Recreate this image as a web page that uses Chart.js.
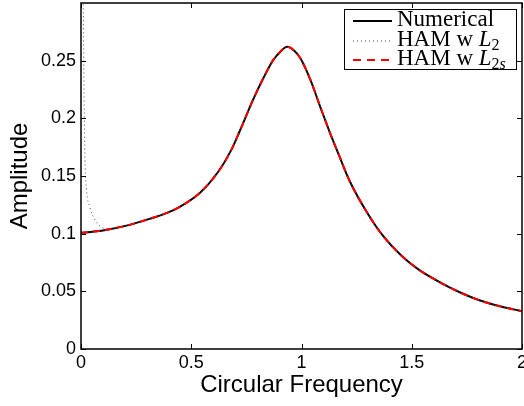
<!DOCTYPE html>
<html>
<head>
<meta charset="utf-8">
<script src="https://cdn.jsdelivr.net/npm/chart.js@4/dist/chart.umd.min.js"></script>
<style>
  body { margin: 0; background: #fff; }
  #wrap { position: relative; width: 524px; height: 406px; }
  #legend {
    position: absolute; left: 344px; top: 9px; width: 171px; height: 59px;
    border: 1px solid #000; background: #fff;
    font-family: "Liberation Serif", "DejaVu Serif", serif; font-size: 23px;
  }
  .legend-item { position: absolute; left: 0; height: 20px; width: 171px; }
  .legend-item svg { position: absolute; left: 8px; top: 0; }
  .legend-label { position: absolute; left: 52px; top: -4px; line-height: 24px; white-space: nowrap; }
  .legend-label sub { font-size: 16px; vertical-align: -4px; line-height: 0; }
</style>
</head>
<body>
<div id="wrap">
  <canvas id="ampChart" width="524" height="406"></canvas>
  <div id="legend"></div>
</div>
<script>
// Values
const freq = [0, 0.06, 0.13, 0.22, 0.31, 0.39, 0.45, 0.54, 0.62, 0.68, 0.72, 0.78, 0.83, 0.87,
  0.905, 0.935, 0.965, 0.995, 1.04, 1.085, 1.13, 1.17, 1.22, 1.30, 1.37, 1.45, 1.53, 1.63,
  1.72, 1.81, 1.90, 2.0];
const numericalAmp = [0.1008, 0.1018, 0.1039, 0.1076, 0.1128, 0.118, 0.1235, 0.1355, 0.153,
  0.172, 0.189, 0.216, 0.236, 0.250, 0.258, 0.262, 0.259, 0.252, 0.2335, 0.210, 0.187, 0.168,
  0.145, 0.1175, 0.098, 0.0815, 0.069, 0.0576, 0.049, 0.042, 0.037, 0.0328];
const hamL2sAmp = [0.1008, 0.1018, 0.1039, 0.1076, 0.1128, 0.118, 0.1235, 0.1355, 0.153,
  0.172, 0.189, 0.216, 0.236, 0.250, 0.258, 0.262, 0.259, 0.252, 0.2335, 0.210, 0.187, 0.168,
  0.145, 0.1175, 0.098, 0.0815, 0.069, 0.0576, 0.049, 0.042, 0.037, 0.0328];
// HAM w L2 departs from the others near zero frequency
const hamL2LowFreq = [0.009, 0.0105, 0.014, 0.018, 0.025, 0.04, 0.055, 0.078, 0.10];
const hamL2LowAmp = [0.33, 0.296, 0.22, 0.164, 0.138, 0.123, 0.115, 0.108, 0.105];

const xTicks = [0, 0.5, 1, 1.5, 2];
const yTicks = [0, 0.05, 0.1, 0.15, 0.2, 0.25];

const toPoints = (xs, ys) => xs.map((x, i) => ({ x: x, y: ys[i] }));
const hamL2Points = toPoints(hamL2LowFreq, hamL2LowAmp).concat(
  toPoints(freq, numericalAmp).filter((p) => p.x > 0.12)
);

// Box round the plot area plus inward ticks on all four sides
const framePlugin = {
  id: "frame",
  afterDatasetsDraw(chart) {
    const { ctx, chartArea: a, scales } = chart;
    ctx.save();
    ctx.strokeStyle = "#000";
    ctx.lineWidth = 1;
    ctx.beginPath();
    xTicks.forEach((v) => {
      const px = Math.round(scales.x.getPixelForValue(v)) + 0.5;
      ctx.moveTo(px, a.bottom); ctx.lineTo(px, a.bottom - 5);
      ctx.moveTo(px, a.top); ctx.lineTo(px, a.top + 5);
    });
    yTicks.forEach((v) => {
      const py = Math.round(scales.y.getPixelForValue(v)) + 0.5;
      ctx.moveTo(a.left, py); ctx.lineTo(a.left + 5, py);
      ctx.moveTo(a.right, py); ctx.lineTo(a.right - 5, py);
    });
    ctx.stroke();
    ctx.lineWidth = 1.5;
    ctx.strokeRect(a.left, a.top, a.right - a.left, a.bottom - a.top);
    ctx.restore();
  },
};

const fmt = (v) => String(parseFloat(Number(v).toFixed(2)));

const ctx = document.getElementById("ampChart").getContext("2d");
const ampChart = new Chart(ctx, {
  type: "line",
  data: {
    datasets: [
      {
        label: "HAM w L2s",
        data: toPoints(freq, hamL2sAmp),
        borderColor: "rgb(255, 0, 0)",
        borderWidth: 2,
        borderDash: [7, 5],
        order: 0,
      },
      {
        label: "HAM w L2",
        data: hamL2Points,
        borderColor: "#444",
        borderWidth: 1,
        borderDash: [1, 3],
        order: 1,
      },
      {
        label: "Numerical",
        data: toPoints(freq, numericalAmp),
        borderColor: "#000",
        borderWidth: 2,
        order: 2,
      },
    ],
  },
  plugins: [framePlugin],
  options: {
    responsive: false,
    animation: false,
    parsing: false,
    layout: { padding: { top: 3, right: 2, left: 0, bottom: 0 } },
    elements: {
      point: { radius: 0 },
      line: { cubicInterpolationMode: "monotone", fill: false },
    },
    plugins: { legend: { display: false }, tooltip: { enabled: false } },
    scales: {
      x: {
        type: "linear",
        min: 0,
        max: 2,
        afterBuildTicks: (s) => { s.ticks = xTicks.map((v) => ({ value: v })); },
        afterFit: (s) => { s.height = 57; s.paddingLeft = 0; s.paddingRight = 0; },
        grid: { display: false, drawTicks: false },
        border: { display: false },
        ticks: {
          autoSkip: false, maxRotation: 0, padding: 3, color: "#000",
          font: { family: "Liberation Sans", size: 18 },
          callback: (v) => fmt(v),
        },
        title: {
          display: true, text: "Circular Frequency", color: "#000",
          font: { family: "Liberation Sans", size: 24, lineHeight: 1.2 },
          padding: { top: 0, bottom: 6 },
        },
      },
      y: {
        type: "linear",
        min: 0,
        max: 0.3,
        afterBuildTicks: (s) => { s.ticks = yTicks.map((v) => ({ value: v })); },
        afterFit: (s) => { s.width = 81; s.paddingTop = 0; s.paddingBottom = 0; },
        grid: { display: false, drawTicks: false },
        border: { display: false },
        ticks: {
          autoSkip: false, padding: 5, color: "#000",
          font: { family: "Liberation Sans", size: 18 },
          callback: (v) => fmt(v),
        },
        title: {
          display: true, text: "Amplitude", color: "#000",
          font: { family: "Liberation Sans", size: 24, lineHeight: 1.2 },
          padding: { top: 6, bottom: 0 },
        },
      },
    },
  },
});

// Custom legend with subscripts, samples match each dataset's stroke
const legendLabels = ["Numerical", "HAM w <i>L</i><sub>2</sub>", "HAM w <i>L</i><sub>2<i>s</i></sub>"];
const legendStyles = [
  { color: "#000", width: 2, dash: "" },
  { color: "#444", width: 1, dash: "1,3" },
  { color: "rgb(255,0,0)", width: 2, dash: "8,6" },
];
const legendContainer = document.getElementById("legend");
legendLabels.forEach((label, index) => {
  const st = legendStyles[index];
  const legendItem = document.createElement("div");
  legendItem.classList.add("legend-item");
  legendItem.style.top = 1 + index * 19.5 + "px";
  legendItem.innerHTML = `
    <svg width="42" height="20"><line x1="0" y1="10" x2="39" y2="10" stroke="${st.color}"
      stroke-width="${st.width}" stroke-dasharray="${st.dash}"/></svg>
    <div class="legend-label">${label}</div>
  `;
  legendContainer.appendChild(legendItem);
});
</script>
</body>
</html>
